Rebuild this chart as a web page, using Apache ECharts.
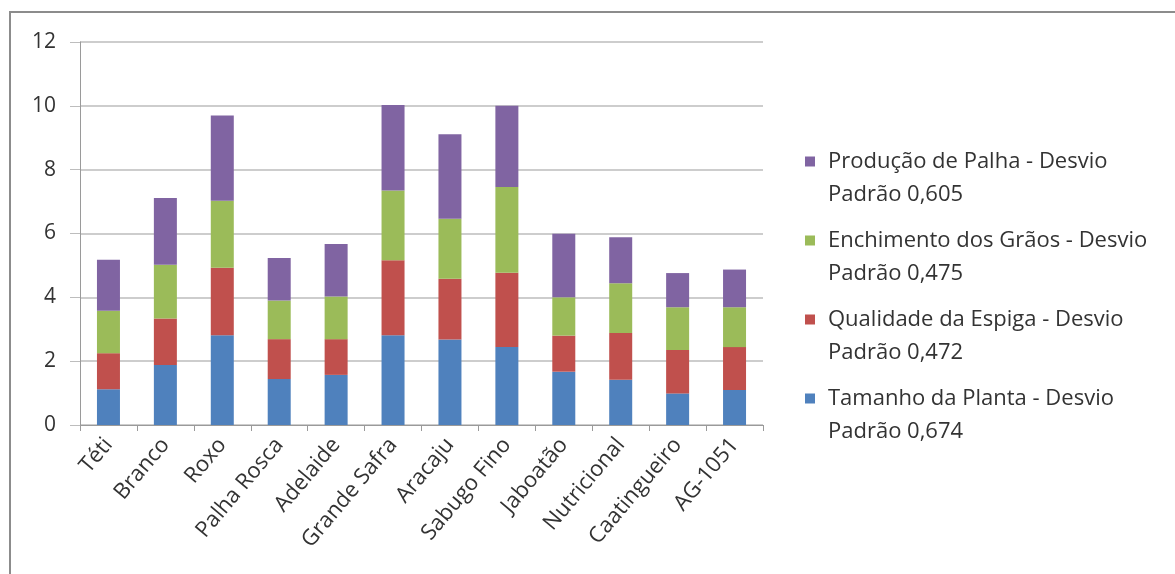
<!DOCTYPE html>
<html>
<head>
<meta charset="utf-8">
<script src="https://cdn.jsdelivr.net/npm/echarts@6/dist/echarts.min.js"></script>
<style>
html,body{margin:0;padding:0;background:#fff;}
#chart{width:1175px;height:574px;}
</style>
</head>
<body>
<div id="chart"></div>
<script>
const categories = ['Téti','Branco','Roxo','Palha Rosca','Adelaide','Grande Safra','Aracaju','Sabugo Fino','Jaboatão','Nutricional','Caatingueiro','AG-1051'];
const tamanhoPlanta = [1.12,1.88,2.81,1.44,1.57,2.81,2.68,2.44,1.67,1.42,0.99,1.10];
const qualidadeEspiga = [1.13,1.46,2.12,1.25,1.12,2.35,1.90,2.33,1.13,1.46,1.36,1.34];
const enchimentoGraos = [1.33,1.68,2.10,1.21,1.34,2.19,1.88,2.69,1.20,1.56,1.34,1.25];
const producaoPalha = [1.60,2.09,2.67,1.33,1.64,2.68,2.65,2.54,1.99,1.44,1.07,1.18];
const seriesNames = [
  'Tamanho da Planta - Desvio\nPadrão 0,674',
  'Qualidade da Espiga - Desvio\nPadrão 0,472',
  'Enchimento dos Grãos - Desvio\nPadrão 0,475',
  'Produção de Palha - Desvio\nPadrão 0,605'
];
const seriesColors = ['#4F81BD','#C0504D','#9BBB59','#8064A2'];
const seriesData = [tamanhoPlanta, qualidadeEspiga, enchimentoGraos, producaoPalha];

const font = '"Open Sans", Lato, sans-serif';
const chart = echarts.init(document.getElementById('chart'));
chart.setOption({
  animation: false,
  backgroundColor: '#fff',
  graphic: [{
    type: 'rect',
    shape: {x: 10, y: 12, width: 1200, height: 600},
    style: {fill: 'none', stroke: '#8c8c8c', lineWidth: 2},
    silent: true, z: -1
  }],
  grid: {left: 80, right: 412, top: 42, bottom: 149, containLabel: false},
  legend: {
    orient: 'vertical',
    left: 800,
    top: 140,
    itemWidth: 18,
    itemHeight: 43,
    itemGap: 13,
    icon: 'path://M0,0L10,0L10,10L0,10Z M18,43L18,43',
    data: seriesNames.slice().reverse(),
    textStyle: {fontFamily: font, fontSize: 22, color: '#333', lineHeight: 33}
  },
  xAxis: {
    type: 'category',
    data: categories,
    axisLine: {lineStyle: {color: '#9a9a9a', width: 1}},
    axisTick: {show: true, length: 6, inside: false, alignWithLabel: false, lineStyle: {color: '#9a9a9a'}},
    axisLabel: {rotate: 50, fontFamily: font, fontSize: 22, color: '#333', margin: 16, interval: 0}
  },
  yAxis: {
    type: 'value',
    min: 0, max: 12, interval: 2,
    axisLine: {show: true, lineStyle: {color: '#9a9a9a', width: 1}},
    axisTick: {show: true, length: 10, lineStyle: {color: '#bdbdbd'}},
    splitLine: {lineStyle: {color: '#bdbdbd', width: 1.5}},
    axisLabel: {fontFamily: font, fontSize: 21, color: '#333', margin: 24}
  },
  series: seriesData.map((d, i) => ({
    name: seriesNames[i],
    type: 'bar',
    stack: 'total',
    data: d,
    barWidth: 23,
    itemStyle: {color: seriesColors[i]}
  }))
});
</script>
</body>
</html>
